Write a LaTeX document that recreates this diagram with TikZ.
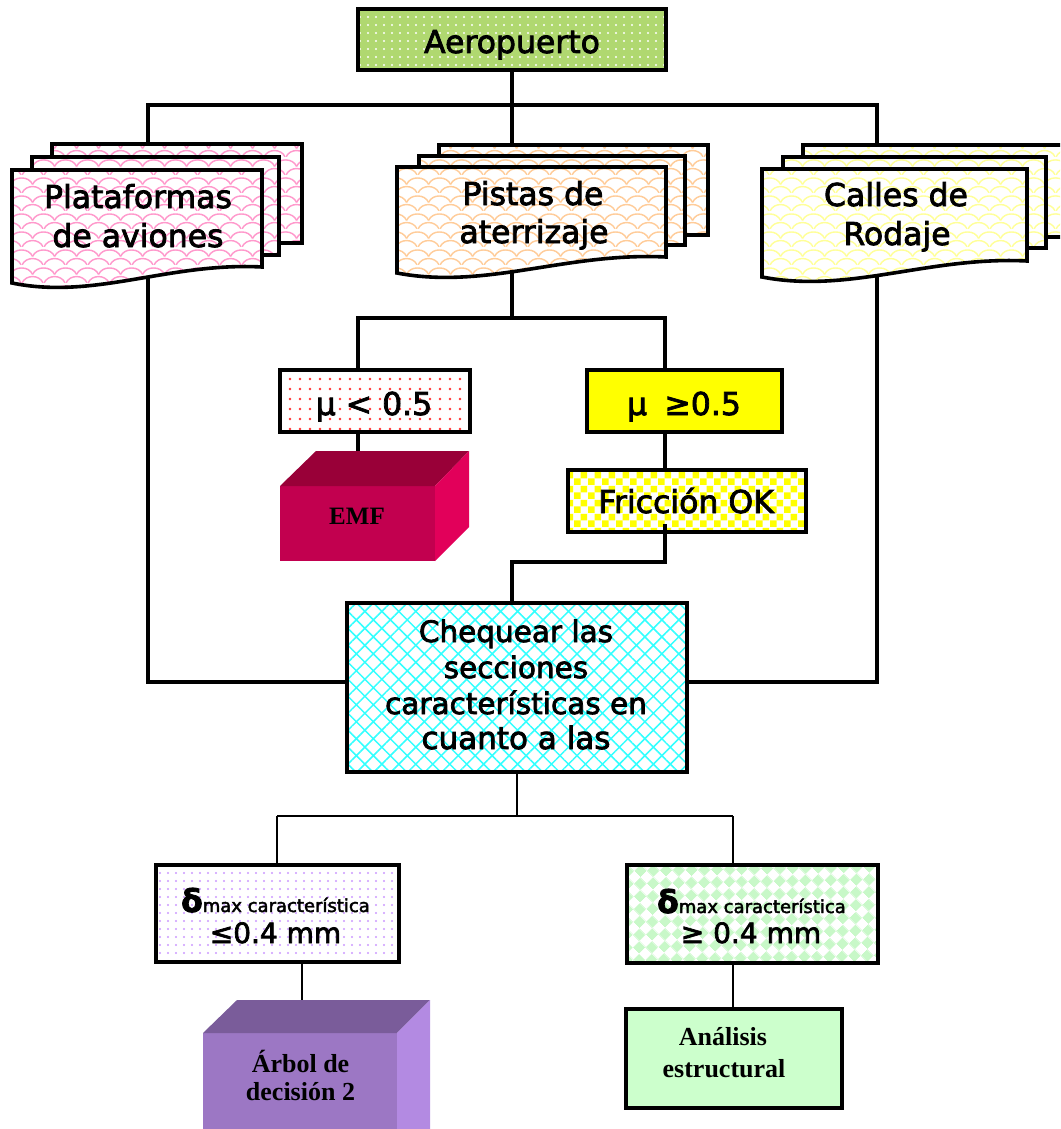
\documentclass[tikz,border=0pt]{standalone}
\usepackage{fontspec}
\setmainfont{DejaVu Sans}
\newfontfamily\hvy{DejaVu Sans}[FakeBold=2.5]
\newfontfamily\tnr{Liberation Serif}
\usetikzlibrary{patterns,patterns.meta}
\pgfdeclarelayer{bg}
\pgfsetlayers{bg,main}
\definecolor{aerog}{HTML}{B0D870}
\definecolor{pinkp}{HTML}{FF99CC}
\definecolor{peachp}{HTML}{FFCC99}
\definecolor{yellp}{HTML}{FFFF99}
\definecolor{redd}{HTML}{FF3333}
\definecolor{yelw}{HTML}{FFFF00}
\definecolor{cyanp}{HTML}{33FFFF}
\definecolor{violetd}{HTML}{CC99FF}
\definecolor{greend}{HTML}{C8F8C8}
\definecolor{analg}{HTML}{CCFFCC}
\definecolor{emffront}{HTML}{C2004F}
\definecolor{emftop}{HTML}{990038}
\definecolor{emfright}{HTML}{E2005A}
\definecolor{arbfront}{HTML}{9C77C4}
\definecolor{arbtop}{HTML}{7A5C9A}
\definecolor{arbright}{HTML}{B38AE2}
\tikzdeclarepattern{
  name=scales, type=uncolored,
  bottom left={(0pt,0pt)}, top right={(22pt,18pt)}, tile size={(22pt,18pt)},
  code={
    \draw[line width=1.5pt] (0pt,0pt) .. controls (4pt,9pt) and (18pt,9pt) .. (22pt,0pt);
    \draw[line width=1.5pt] (-11pt,9pt) .. controls (-7pt,18pt) and (7pt,18pt) .. (11pt,9pt);
    \draw[line width=1.5pt] (11pt,9pt) .. controls (15pt,18pt) and (29pt,18pt) .. (33pt,9pt);
  }
}
\tikzdeclarepattern{
  name=chk, type=uncolored,
  bottom left={(0pt,0pt)}, top right={(14pt,14pt)}, tile size={(14pt,14pt)},
  code={
    \fill (0pt,0pt) rectangle (7pt,7pt);
    \fill (7pt,7pt) rectangle (14pt,14pt);
  }
}
\tikzdeclarepattern{
  name=diachk, type=uncolored,
  bottom left={(0pt,0pt)}, top right={(18pt,18pt)}, tile size={(18pt,18pt)},
  tile transformation={rotate=45},
  code={
    \fill (0pt,0pt) rectangle (9pt,9pt);
    \fill (9pt,9pt) rectangle (18pt,18pt);
  }
}
\begin{document}
\begin{tikzpicture}[x=1pt,y=-1pt,
  conn/.style={line width=3.6pt},
  thinconn/.style={line width=1.6pt},
  box/.style={draw, line width=3.6pt, inner sep=0pt, outer sep=0pt},
  docshape/.style={draw, line width=3.6pt, line join=miter, preaction={fill=white}, pattern=scales},
  lbl/.style={anchor=base, inner sep=0pt, font=\hvy\fontsize{31.5}{37}\selectfont},
  sublbl/.style={anchor=base, inner sep=0pt, font=\hvy\fontsize{28}{32}\selectfont},
  serlbl/.style={anchor=base, inner sep=0pt, font=\tnr\bfseries\fontsize{26}{30}\selectfont}]
\useasboundingbox (0,0) rectangle (1060,1129);
\clip (0,0) rectangle (1060,1129);

% ---------- boxes ----------
\node[box, minimum width=308pt, minimum height=61pt, preaction={fill=aerog},
      pattern={Dots[radius=1.2pt,distance=8pt]}, pattern color=white] (aero) at (512,39.5) {};
\node[lbl] (aerot) at (512,53) {Aeropuerto};

% documents
\path[docshape, pattern color=pinkp] (52,144) rectangle (302,243);
\path[docshape, pattern color=pinkp] (32,157) rectangle (279,255);
\path[docshape, pattern color=pinkp] (12,170) -- (262,170) -- (262,267)
   .. controls (169.5,262) and (94.5,300) .. (12,283) -- cycle;
\node[lbl] (plat1) at (138,208) {Plataformas};
\node[lbl] (plat2) at (138,247) {de aviones};

\path[docshape, pattern color=peachp] (439,145) rectangle (708,235);
\path[docshape, pattern color=peachp] (419,156) rectangle (685,245);
\path[docshape, pattern color=peachp] (397,167) -- (666,167) -- (666,257)
   .. controls (566.5,252) and (485.8,290) .. (397,273) -- cycle;
\node[lbl] (pist1) at (533,205) {Pistas de};
\node[lbl] (pist2) at (534,243) {aterrizaje};

\path[docshape, pattern color=yellp] (803,145) rectangle (1090,237);
\path[docshape, pattern color=yellp] (783,157) rectangle (1046,248);
\path[docshape, pattern color=yellp] (762,169) -- (1027,169) -- (1027,261)
   .. controls (929,256) and (849.5,294) .. (762,277) -- cycle;
\node[lbl] (call1) at (896,206) {Calles de};
\node[lbl] (call2) at (897,245) {Rodaje};

\coordinate (platT) at (148,150);
\coordinate (pistT) at (512,150);
\coordinate (callT) at (877,150);
\coordinate (platB) at (148,275);
\coordinate (pistB) at (512,265);
\coordinate (callB) at (877,265);

% mu boxes
\node[box, minimum width=190pt, minimum height=62pt, preaction={fill=white},
      pattern={Dots[radius=1.3pt,distance=10pt]}, pattern color=redd] (mu1) at (375,401) {};
\node[lbl] (mu1t) at (374,415) {μ < 0.5};
\node[box, minimum width=195pt, minimum height=62pt, fill=yelw] (mu2) at (684.5,401) {};
\node[lbl] (mu2t) at (684,415) {μ\hspace{0.55em}≥0.5};

% EMF cube
\node[inner sep=0pt, outer sep=0pt, minimum width=155pt, minimum height=75pt, fill=emffront] (emf) at (357.5,523.5) {};
\fill[emftop] (emf.north west) -- ++(36,-35) -- ++(153,0) -- (emf.north east) -- cycle;
\fill[emfright] (emf.north east) -- ++(34,-35) -- ++(0,76) -- (emf.south east) -- cycle;
\node[serlbl, font=\tnr\bfseries\fontsize{25}{30}\selectfont] (emft) at (357,524) {EMF};

% Friccion
\node[box, minimum width=238pt, minimum height=62pt, preaction={fill=white},
      pattern=chk, pattern color=yelw] (fric) at (687,501) {};
\node[lbl] (frict) at (686,513) {Fricción OK};

% Chequear
\node[box, minimum width=340pt, minimum height=169pt, preaction={fill=white},
      pattern={Hatch[angle=45,distance=12pt,line width=1.5pt]}, pattern color=cyanp] (cheq) at (517,687.5) {};
\begin{scope}[every node/.style={lbl, font=\hvy\fontsize{29.5}{36}\selectfont}]
\node (cq1) at (516,642) {Chequear las};
\node (cq2) at (516,678) {secciones};
\node (cq3) at (516,714) {características en};
\node[font=\hvy\fontsize{31}{36}\selectfont] (cq4) at (516,749) {cuanto a las};
\end{scope}

% delta boxes
\node[box, minimum width=243pt, minimum height=97pt, preaction={fill=white},
      pattern={Dots[radius=1.1pt,distance=8pt]}, pattern color=violetd] (d1) at (277.5,913.5) {};
\node[lbl] (d1a) at (275.5,912) {\textbf{δ}{\fontsize{18}{20}\selectfont max característica}};
\node[sublbl] (d1b) at (275.5,943) {≤0.4 mm};

\node[box, minimum width=251pt, minimum height=98pt, preaction={fill=white},
      pattern=diachk, pattern color=greend] (d2) at (752.5,914) {};
\node[lbl] (d2a) at (751.5,913) {\textbf{δ}{\fontsize{18}{20}\selectfont max característica}};
\node[sublbl] (d2b) at (751,943) {≥ 0.4 mm};

% Arbol cube
\node[inner sep=0pt, outer sep=0pt, minimum width=194pt, minimum height=107pt, fill=arbfront] (arb) at (300,1086.5) {};
\fill[arbtop] (arb.north west) -- ++(34,-33) -- ++(193,0) -- (arb.north east) -- cycle;
\fill[arbright] (arb.north east) -- ++(33,-33) -- ++(0,140) -- (arb.south east) -- cycle;
\node[serlbl] (arb1) at (300.5,1072) {Árbol de};
\node[serlbl] (arb2) at (300.5,1100) {decisión 2};

% Analisis
\node[box, minimum width=216pt, minimum height=99pt, fill=analg] (anal) at (734,1058.5) {};
\node[serlbl] (anal1) at (723,1045) {Análisis};
\node[serlbl] (anal2) at (724,1077) {estructural};

% ---------- connectors ----------
\coordinate (hl) at (148,105);
\coordinate (hr) at (877,105);
\coordinate (pl) at (148,682);
\coordinate (cl) at (347,682);
\coordinate (pr) at (877,682);
\coordinate (cr) at (687,682);
\coordinate (ml) at (358,318);
\coordinate (mr) at (665,318);
\coordinate (fk) at (665,562);
\coordinate (ck) at (512,562);
\coordinate (cb) at (517,816);
\coordinate (bl) at (277,816);
\coordinate (br) at (733,816);
\coordinate (emftopc) at (358,451);

\begin{pgfonlayer}{bg}
\draw[conn] (aero.south) -- (pistT);
\draw[conn] (platT) -- (hl) -- (hr) -- (callT);
\draw[conn] (platB) -- (pl) -- (cl);
\draw[conn] (callB) -- (pr) -- (cr);
\draw[conn] (pistB) -- (pistB |- ml);
\draw[conn] (ml |- mu1.north) -- (ml) -- (mr) -- (mr |- mu2.north);
\draw[conn] (ml |- mu1.south) -- (emftopc);
\draw[conn] (mr |- mu2.south) -- (mr |- fric.north);
\draw[conn] (ck |- cheq.north) -- (ck) -- (fk) -- (665,500);
\draw[thinconn] (cb |- cheq.south) -- (cb);
\draw[thinconn] (bl) -- (br);
\draw[line width=2.8pt] (bl) -- (bl |- d1.north);
\draw[thinconn] (br) -- (br |- d2.north);
\draw[line width=2.8pt] (302,962) -- (302,1001);
\draw[thinconn] (br |- d2.south) -- (br |- anal.north);
\end{pgfonlayer}
\draw[conn] (665,524) -- (fric.south -| fk);
\end{tikzpicture}
\end{document}
